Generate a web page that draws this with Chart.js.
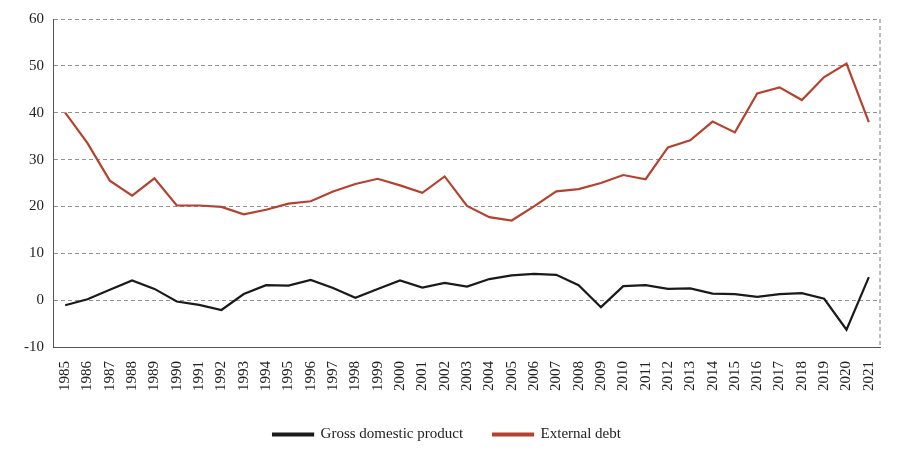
<!DOCTYPE html>
<html><head><meta charset="utf-8">
<script src="https://cdn.jsdelivr.net/npm/chart.js@4"></script>
<style>html,body{margin:0;background:#fff}#wrap{width:900px;height:458px}</style>
</head><body><div id="wrap"><canvas id="myChart"></canvas></div>
<script>
var years = [];
for (var y = 1985; y <= 2021; y++) years.push(String(y));
var gdp = [-1.1,0.2,2.2,4.2,2.4,-0.3,-1.0,-2.1,1.3,3.2,3.1,4.3,2.6,0.5,2.4,4.2,2.7,3.7,2.9,4.5,5.3,5.6,5.4,3.2,-1.5,3.0,3.2,2.4,2.5,1.4,1.3,0.7,1.3,1.5,0.3,-6.3,4.9];
var debt = [40,33.5,25.5,22.3,26,20.2,20.2,19.9,18.3,19.3,20.6,21.1,23.2,24.8,25.9,24.5,22.9,26.4,20.1,17.7,17.0,20.0,23.2,23.7,25.0,26.7,25.8,32.6,34.1,38.1,35.8,44.1,45.4,42.7,47.6,50.5,38];

Chart.defaults.font.family = "'Liberation Serif', serif";
Chart.defaults.font.size = 15;
Chart.defaults.color = '#222';

const ctx = document.getElementById('myChart').getContext('2d');
const chart = new Chart(ctx, {
    type: 'line',
    data: {
        labels: years,
        datasets: [
            {label: 'Gross domestic product', data: gdp, borderColor: '#1a1a1a', backgroundColor: '#1a1a1a', borderWidth: 2.2, pointRadius: 0, tension: 0},
            {label: 'External debt', data: debt, borderColor: '#b5422e', backgroundColor: '#b5422e', borderWidth: 2.2, pointRadius: 0, tension: 0}
        ]
    },
    options: {
        responsive: true,
        maintainAspectRatio: false,
        animation: false,
        layout: {padding: {left: 14, right: 20, top: 15, bottom: 6}},
        plugins: {
            legend: {
                position: 'bottom',
                labels: {boxWidth: 40, boxHeight: 2, padding: 30, color: '#222'}
            },
            tooltip: {enabled: false}
        },
        scales: {
            x: {
                offset: true,
                grid: {display: false},
                border: {color: '#555', dash: [4, 3]},
                ticks: {maxRotation: 90, minRotation: 90, autoSkip: false, padding: 6}
            },
            y: {
                min: -10, max: 60,
                ticks: {stepSize: 10, padding: 10},
                grid: {color: '#777', tickLength: 0, lineWidth: 0.8},
                border: {display: true, dash: [4, 3], color: '#555'}
            }
        }
    },
    plugins: [{
        id: 'frame',
        afterDraw: function(c){
            var a = c.chartArea, g = c.ctx;
            g.save();
            g.strokeStyle = '#555'; g.lineWidth = 0.8; g.setLineDash([4,3]);
            g.beginPath(); g.moveTo(a.right, a.top); g.lineTo(a.right, a.bottom); g.stroke();
            g.restore();
        }
    }]
});
</script></body></html>
